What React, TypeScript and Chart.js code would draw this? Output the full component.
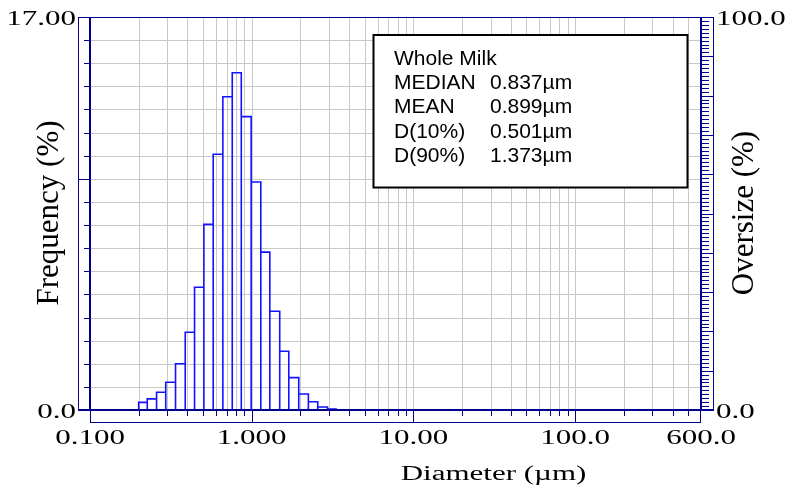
import React, { useEffect, useRef } from "react";
import { Chart, registerables } from "chart.js";

Chart.register(...registerables);

// Histogram bin edges (µm) and frequency (%) per bin
const BIN_EDGES = [0.2, 0.226, 0.258, 0.294, 0.338, 0.388, 0.443, 0.506, 0.578, 0.663, 0.758, 0.862, 0.992, 1.138, 1.294, 1.49, 1.695, 1.953, 2.24, 2.56, 2.94, 3.33];
const FREQUENCY = [0.33, 0.48, 0.77, 1.2, 2.0, 3.36, 5.31, 8.03, 11.06, 13.55, 14.59, 12.69, 9.86, 6.83, 4.27, 2.54, 1.4, 0.69, 0.36, 0.13, 0.04];

// Axis ranges
const X_MIN = 0.1;
const X_MAX = 600;
const Y_MAX = 17;
const Y2_MAX = 100;

// Axis tick values / labels
const X_DECADES = [0.1, 1, 10, 100];
const X_MULTIPLES = [1, 2, 3, 4, 5, 6, 7, 8, 9];
const X_MAJOR = [1, 10, 100];
const X_LABEL_VALUES = [0.1, 1, 10, 100, 600];
const X_LABEL_TEXT = ["0.100", "1.000", "10.00", "100.0", "600.0"];
const Y_LABEL_VALUES = [0, 17];
const Y_LABEL_TEXT = ["0.0", "17.00"];
const Y2_LABEL_VALUES = [0, 100];
const Y2_LABEL_TEXT = ["0.0", "100.0"];
const Y_MAJOR_TICKS = [10];

const X_TITLE = "Diameter (\u00b5m)";
const Y_TITLE = "Frequency (%)";
const Y2_TITLE = "Oversize (%)";

// Stats box
const STATS_TITLE = "Whole Milk";
const STATS_NAMES = ["MEDIAN", "MEAN", "D(10%)", "D(90%)"];
const STATS_VALUES = ["0.837\u00b5m", "0.899\u00b5m", "0.501\u00b5m", "1.373\u00b5m"];

const X_GRID: number[] = [];
X_DECADES.forEach((d) => X_MULTIPLES.forEach((m) => {
  const v = Math.round(d * m * 1000) / 1000;
  if (v <= X_MAX) X_GRID.push(v);
}));
X_GRID.push(X_MAX);

const NAVY = "#00008c";
const GRID = "#c8c8c8";
const SERIF = '20px "Liberation Serif", "Times New Roman", serif';
const SX = 1.55;

function stretchText(ctx: CanvasRenderingContext2D, text: string, x: number, y: number, align: CanvasTextAlign) {
  ctx.save();
  ctx.font = SERIF;
  ctx.fillStyle = "#000";
  ctx.textAlign = align;
  ctx.textBaseline = "alphabetic";
  ctx.translate(x, y);
  ctx.scale(SX, 1);
  ctx.fillText(text, 0, 0);
  ctx.restore();
}

function line(ctx: CanvasRenderingContext2D, x1: number, y1: number, x2: number, y2: number, w: number) {
  ctx.lineWidth = w;
  ctx.beginPath();
  ctx.moveTo(x1, y1);
  ctx.lineTo(x2, y2);
  ctx.stroke();
}

const framePlugin = {
  id: "psdFrame",
  beforeDatasetsDraw(chart: any) {
    const ctx: CanvasRenderingContext2D = chart.ctx;
    const { left, right, top, bottom } = chart.chartArea;
    const xs = chart.scales.x;
    const ys = chart.scales.y;
    ctx.save();
    ctx.strokeStyle = GRID;
    for (let v = 1; v < Y_MAX; v++) {
      const y = Math.round(ys.getPixelForValue(v)) + 0.5;
      line(ctx, left, y, right, y, 1);
    }
    X_GRID.forEach((v) => {
      if (v <= X_MIN || v >= X_MAX) return;
      const x = Math.round(xs.getPixelForValue(v)) + 0.5;
      line(ctx, x, top, x, bottom, 1);
    });
    ctx.restore();
  },
  afterDatasetsDraw(chart: any) {
    const ctx: CanvasRenderingContext2D = chart.ctx;
    const { left, right, top, bottom } = chart.chartArea;
    const xs = chart.scales.x;
    const ys = chart.scales.y;
    const y2s = chart.scales.y2;
    const L = Math.round(left), R = Math.round(right), T = Math.round(top), B = Math.round(bottom);
    ctx.save();
    ctx.strokeStyle = NAVY;
    // thin outer lines
    line(ctx, L - 12, T + 0.5, R + 13, T + 0.5, 1);
    line(ctx, L - 11.5, T, L - 11.5, B, 1);
    line(ctx, R + 12.5, T, R + 12.5, B, 1);
    line(ctx, L + 0.5, B, L + 0.5, B + 13, 1);
    line(ctx, R - 0.5, B, R - 0.5, B + 13, 1);
    line(ctx, L, B + 12.5, R, B + 12.5, 1);
    // left ticks
    for (let v = 1; v < Y_MAX; v++) {
      const y = Math.round(ys.getPixelForValue(v)) + 0.5;
      const major = Y_MAJOR_TICKS.includes(v);
      line(ctx, major ? L - 12 : L - 6, y, L, y, 1);
    }
    // right ticks
    for (let p = 1; p < Y2_MAX; p++) {
      const y = Math.round(y2s.getPixelForValue(p)) + 0.5;
      const major = p % 10 === 0;
      line(ctx, R, y, major ? R + 13 : R + 8, y, 1);
    }
    // bottom ticks
    X_GRID.forEach((v) => {
      if (v <= X_MIN || v >= X_MAX) return;
      const x = Math.round(xs.getPixelForValue(v)) + 0.5;
      const major = X_MAJOR.includes(v);
      line(ctx, x, B, x, major ? B + 12 : B + 6, 1);
    });
    // thick plot frame
    line(ctx, L, T, L, B + 1, 2);
    line(ctx, R, T, R, B + 1, 2);
    line(ctx, L - 12, B, R + 13, B, 2);

    // tick labels
    X_LABEL_VALUES.forEach((v, i) => {
      stretchText(ctx, X_LABEL_TEXT[i], xs.getPixelForValue(v), B + 34, "center");
    });
    Y_LABEL_VALUES.forEach((v, i) => {
      stretchText(ctx, Y_LABEL_TEXT[i], L - 14, ys.getPixelForValue(v) + 7.5, "right");
    });
    Y2_LABEL_VALUES.forEach((v, i) => {
      stretchText(ctx, Y2_LABEL_TEXT[i], R + 15, y2s.getPixelForValue(v) + 7.5, "left");
    });
    // axis titles
    stretchText(ctx, X_TITLE, L + 403.5, B + 70, "center");
    const midY = (T + B) / 2 - 0.5;
    ctx.fillStyle = "#000";
    ctx.font = '31px "Liberation Serif", "Times New Roman", serif';
    ctx.textAlign = "center";
    ctx.textBaseline = "alphabetic";
    ctx.save();
    ctx.translate(L - 32, midY);
    ctx.rotate(-Math.PI / 2);
    ctx.fillText(Y_TITLE, 0, 0);
    ctx.restore();
    ctx.save();
    ctx.translate(R + 52, midY);
    ctx.rotate(-Math.PI / 2);
    ctx.fillText(Y2_TITLE, 0, 0);
    ctx.restore();

    // stats box
    const bx = 373.5, by = 35, bw = 314, bh = 152.5;
    ctx.fillStyle = "#fff";
    ctx.fillRect(bx, by, bw, bh);
    ctx.strokeStyle = "#000";
    ctx.lineWidth = 2;
    ctx.strokeRect(bx, by, bw, bh);
    ctx.fillStyle = "#000";
    ctx.font = '21px "Liberation Sans", Arial, sans-serif';
    ctx.textAlign = "left";
    ctx.fillText(STATS_TITLE, 394, 64.5);
    STATS_NAMES.forEach((n, i) => {
      const yy = 64.5 + (i + 1) * 24.35;
      ctx.fillText(n, 394, yy);
      ctx.fillText(STATS_VALUES[i], 490, yy);
    });
    ctx.restore();
  },
};

export default function App() {
  const ref = useRef<HTMLCanvasElement | null>(null);
  useEffect(() => {
    if (!ref.current) return;
    const pts: { x: number; y: number | null }[] = [];
    FREQUENCY.forEach((f, i) => {
      const l = BIN_EDGES[i];
      const r = BIN_EDGES[i + 1];
      pts.push({ x: l, y: 0 }, { x: l, y: f }, { x: r, y: f }, { x: r, y: 0 }, { x: r, y: null });
    });
    const chart = new Chart(ref.current, {
      type: "line",
      data: {
        datasets: [
          {
            data: pts as any,
            borderColor: "#1212ff",
            borderWidth: 1.6,
            pointRadius: 0,
            fill: false,
            tension: 0,
            spanGaps: false,
            yAxisID: "y",
          },
        ],
      },
      plugins: [framePlugin],
      options: {
        animation: false,
        responsive: false,
        events: [],
        layout: { padding: { top: 17, left: 0, right: 0, bottom: 0 } },
        plugins: { legend: { display: false }, tooltip: { enabled: false }, title: { display: false } },
        scales: {
          x: {
            type: "logarithmic",
            min: X_MIN,
            max: X_MAX,
            position: "bottom",
            ticks: { display: false },
            border: { display: false },
            grid: { display: false, drawTicks: false },
            afterFit: (s: any) => {
              s.height = 81;
            },
          },
          y: {
            type: "linear",
            min: 0,
            max: Y_MAX,
            position: "left",
            ticks: { display: false, stepSize: 1 },
            border: { display: false },
            grid: { display: false, drawTicks: false },
            afterFit: (s: any) => {
              s.width = 90;
            },
          },
          y2: {
            type: "linear",
            min: 0,
            max: Y2_MAX,
            position: "right",
            ticks: { display: false },
            border: { display: false },
            grid: { display: false, drawTicks: false },
            afterFit: (s: any) => {
              s.width = 87;
            },
          },
        },
      } as any,
    });
    return () => chart.destroy();
  }, []);
  return (
    <div style={{ position: "fixed", left: 0, top: 0, width: 788, height: 491, background: "#fff" }}>
      <canvas ref={ref} width={788} height={491} style={{ display: "block", width: 788, height: 491 }} />
    </div>
  );
}
